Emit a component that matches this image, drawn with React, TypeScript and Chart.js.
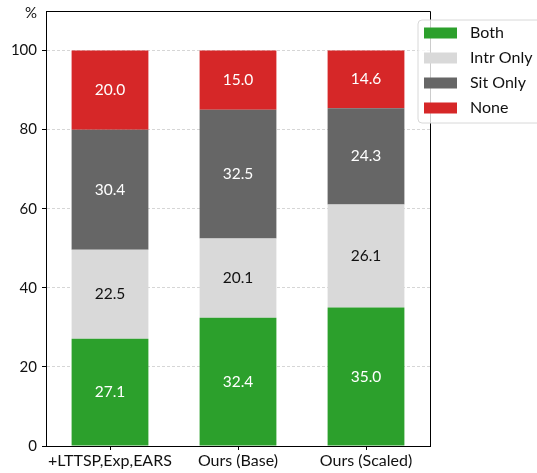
import React, { useEffect, useRef } from "react";
import { Chart, registerables } from "chart.js";
Chart.register(...registerables);

const categories = ["+LTTSP,Exp,EARS", "Ours (Base)", "Ours (Scaled)"];
const seriesNames = ["Both", "Intr Only", "Sit Only", "None"];
const bothValues = [27.1, 32.4, 35.0];
const intrOnlyValues = [22.5, 20.1, 26.1];
const sitOnlyValues = [30.4, 32.5, 24.3];
const noneValues = [20.0, 15.0, 14.6];
const seriesColors = ["#2ca02c", "#d9d9d9", "#666666", "#d62728"];
const labelColors = ["#ffffff", "#111111", "#ffffff", "#ffffff"];
const yLabel = "%";
const FONT = "Lato, 'Open Sans', sans-serif";

const segmentLabels = {
  id: "segmentLabels",
  afterDatasetsDraw(chart: any) {
    const ctx = chart.ctx;
    ctx.save();
    ctx.font = `15.5px ${FONT}`;
    ctx.textAlign = "center";
    ctx.textBaseline = "middle";
    chart.data.datasets.forEach((ds: any, di: number) => {
      const meta = chart.getDatasetMeta(di);
      meta.data.forEach((bar: any, i: number) => {
        const v = ds.data[i];
        ctx.fillStyle = labelColors[di];
        ctx.fillText(v.toFixed(1), bar.x, (bar.y + bar.base) / 2);
      });
    });
    ctx.restore();
  },
};

const frameAndLegend = {
  id: "frameAndLegend",
  afterDraw(chart: any) {
    const ctx = chart.ctx;
    const a = chart.chartArea;
    ctx.save();
    ctx.strokeStyle = "#000";
    ctx.lineWidth = 1;
    ctx.beginPath();
    ctx.moveTo(a.left, a.top + 0.5);
    ctx.lineTo(a.right + 0.5, a.top + 0.5);
    ctx.lineTo(a.right + 0.5, a.bottom);
    ctx.stroke();

    // y label
    ctx.fillStyle = "#111";
    ctx.font = `15px ${FONT}`;
    ctx.textAlign = "center";
    ctx.textBaseline = "middle";
    ctx.fillText(yLabel, a.left - 15, a.top + 2);

    // legend
    const lx = a.right - 12;
    const ly = 20;
    const lw = 140;
    const lh = 103;
    const r = 4;
    ctx.beginPath();
    ctx.moveTo(lx + r, ly);
    ctx.lineTo(lx + lw - r, ly);
    ctx.arcTo(lx + lw, ly, lx + lw, ly + r, r);
    ctx.lineTo(lx + lw, ly + lh - r);
    ctx.arcTo(lx + lw, ly + lh, lx + lw - r, ly + lh, r);
    ctx.lineTo(lx + r, ly + lh);
    ctx.arcTo(lx, ly + lh, lx, ly + lh - r, r);
    ctx.lineTo(lx, ly + r);
    ctx.arcTo(lx, ly, lx + r, ly, r);
    ctx.closePath();
    ctx.fillStyle = "rgba(255,255,255,0.8)";
    ctx.fill();
    ctx.strokeStyle = "#d8d8d8";
    ctx.stroke();

    ctx.font = `16px ${FONT}`;
    chart.data.datasets.forEach((ds: any, i: number) => {
      const cy = ly + 13 + i * 25;
      ctx.fillStyle = ds.backgroundColor;
      ctx.fillRect(lx + 6, cy - 5.5, 33, 11);
      ctx.fillStyle = "#111";
      ctx.textAlign = "left";
      ctx.fillText(ds.label, lx + 52, cy);
    });
    ctx.restore();
  },
};

export default function App() {
  const ref = useRef<HTMLCanvasElement>(null);
  useEffect(() => {
    const values = [bothValues, intrOnlyValues, sitOnlyValues, noneValues];
    const chart = new Chart(ref.current!, {
      type: "bar",
      data: {
        labels: categories,
        datasets: seriesNames.map((name, i) => ({
          label: name,
          data: values[i],
          backgroundColor: seriesColors[i],
          borderWidth: 0,
          categoryPercentage: 1,
          barPercentage: 0.6,
        })),
      },
      options: {
        animation: false,
        responsive: true,
        maintainAspectRatio: false,
        layout: { padding: { left: 0, top: 11, right: 107, bottom: 0 } },
        plugins: { legend: { display: false }, tooltip: { enabled: false } },
        scales: {
          x: {
            stacked: true,
            grid: {
              offset: false,
              drawOnChartArea: false,
              drawTicks: true,
              tickLength: 4,
              tickColor: "#000",
            },
            border: { color: "#000", width: 1 },
            ticks: { color: "#111", font: { family: FONT, size: 16 }, padding: 1, maxRotation: 0 },
            afterFit: (s: any) => {
              s.height = 27;
              s.paddingLeft = 0;
              s.paddingRight = 0;
            },
          },
          y: {
            stacked: true,
            min: 0,
            max: 110,
            ticks: { stepSize: 20, color: "#111", font: { family: FONT, size: 15 }, padding: 5 },
            afterBuildTicks: (s: any) => {
              s.ticks = s.ticks.filter((t: any) => t.value <= 100);
            },
            grid: {
              color: "#cccccc",
              lineWidth: 0.8,
              tickLength: 4,
              tickColor: "#000",
              tickWidth: 1,
            },
            border: { color: "#000", width: 1, dash: [3, 2] },
            afterFit: (s: any) => {
              s.width = 46;
              s.paddingTop = 0;
              s.paddingBottom = 0;
            },
          },
        },
      },
      plugins: [segmentLabels, frameAndLegend],
    });
    return () => chart.destroy();
  }, []);
  return (
    <div style={{ position: "fixed", left: 0, top: 0, width: 537, height: 473, background: "#fff" }}>
      <canvas ref={ref} />
    </div>
  );
}
